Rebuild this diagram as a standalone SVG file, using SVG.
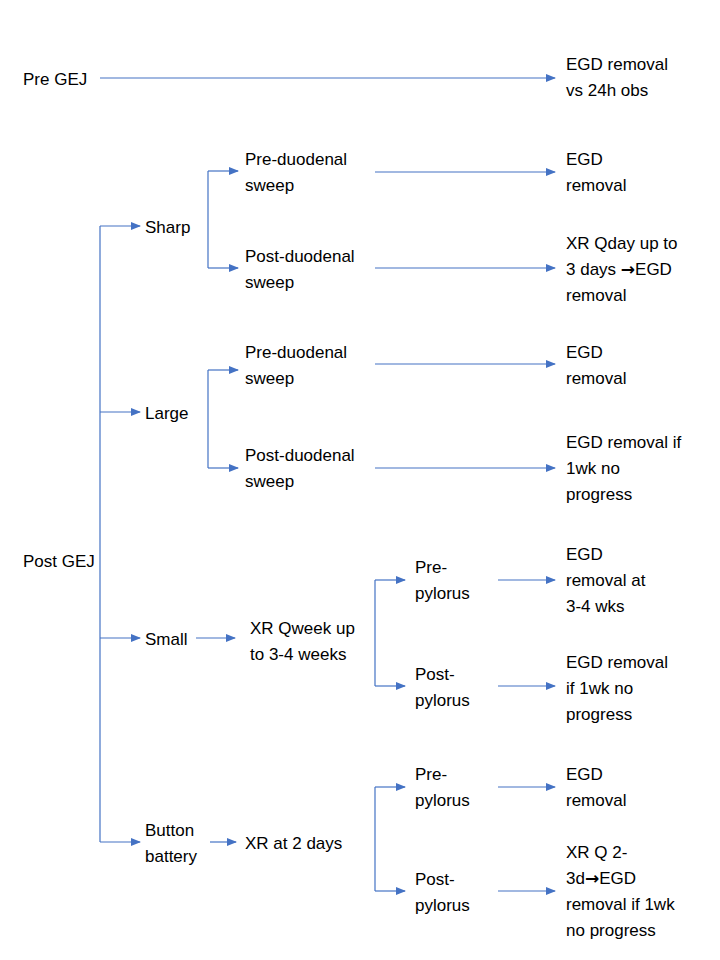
<svg xmlns="http://www.w3.org/2000/svg" width="720" height="960" viewBox="0 0 720 960">
<style>
text{font-family:"Liberation Sans",Arial,sans-serif;font-size:17px;fill:#000}
.ar{font-family:"DejaVu Sans",sans-serif;font-weight:bold}
.l{stroke:#4472C4;stroke-width:1.2;fill:none}
.a{stroke:#4472C4;stroke-width:1.2;fill:none;marker-end:url(#ar)}
</style>
<defs><marker id="ar" markerWidth="10" markerHeight="8" refX="9" refY="4" orient="auto" markerUnits="userSpaceOnUse"><path d="M0,0L10,4L0,8z" fill="#4472C4"/></marker></defs>
<rect width="720" height="960" fill="#fff"/>
<g id="connectors">
<path class="a" d="M100,78H555"/>
<path class="l" d="M100,226V842"/>
<path class="a" d="M100,226H140"/><path class="a" d="M100,412H140"/><path class="a" d="M100,638H140"/><path class="a" d="M100,842H140"/>
<path class="l" d="M208,171V268"/><path class="a" d="M208,171H238"/><path class="a" d="M208,268H238"/>
<path class="a" d="M375,172H555"/><path class="a" d="M375,268H555"/>
<path class="l" d="M208,370V468"/><path class="a" d="M208,370H238"/><path class="a" d="M208,468H238"/>
<path class="a" d="M375,364H555"/><path class="a" d="M375,468H555"/>
<path class="a" d="M196,638H235"/>
<path class="l" d="M375,580V686"/><path class="a" d="M375,580H405"/><path class="a" d="M375,686H405"/>
<path class="a" d="M498,580H555"/><path class="a" d="M498,686H555"/>
<path class="a" d="M210,842H236"/>
<path class="l" d="M375,787V891"/><path class="a" d="M375,787H405"/><path class="a" d="M375,891H405"/>
<path class="a" d="M498,787H555"/><path class="a" d="M498,891H555"/>
</g>
<g id="pregej"><text x="23" y="85">Pre GEJ</text></g>
<g id="pregej-out"><text x="566" y="70">EGD removal</text><text x="566" y="96">vs 24h obs</text></g>
<g id="postgej"><text x="23" y="567">Post GEJ</text></g>
<g id="sharp"><text x="145" y="233">Sharp</text></g>
<g id="sharp-pre"><text x="245" y="165">Pre-duodenal</text><text x="245" y="191">sweep</text></g>
<g id="sharp-pre-out"><text x="566" y="165">EGD</text><text x="566" y="191">removal</text></g>
<g id="sharp-post"><text x="245" y="262">Post-duodenal</text><text x="245" y="288">sweep</text></g>
<g id="sharp-post-out"><text x="566" y="249">XR Qday up to</text><text x="566" y="275">3 days <tspan class="ar">→</tspan>EGD</text><text x="566" y="301">removal</text></g>
<g id="large"><text x="145" y="419">Large</text></g>
<g id="large-pre"><text x="245" y="358">Pre-duodenal</text><text x="245" y="384">sweep</text></g>
<g id="large-pre-out"><text x="566" y="358">EGD</text><text x="566" y="384">removal</text></g>
<g id="large-post"><text x="245" y="461">Post-duodenal</text><text x="245" y="487">sweep</text></g>
<g id="large-post-out"><text x="566" y="448">EGD removal if</text><text x="566" y="474">1wk no</text><text x="566" y="500">progress</text></g>
<g id="small"><text x="145" y="645">Small</text></g>
<g id="small-xr"><text x="250" y="634">XR Qweek up</text><text x="250" y="660">to 3-4 weeks</text></g>
<g id="small-pre"><text x="415" y="573">Pre-</text><text x="415" y="599">pylorus</text></g>
<g id="small-pre-out"><text x="566" y="560">EGD</text><text x="566" y="586">removal at</text><text x="566" y="612">3-4 wks</text></g>
<g id="small-post"><text x="415" y="680">Post-</text><text x="415" y="706">pylorus</text></g>
<g id="small-post-out"><text x="566" y="668">EGD removal</text><text x="566" y="694">if 1wk no</text><text x="566" y="720">progress</text></g>
<g id="battery"><text x="145" y="836">Button</text><text x="145" y="862">battery</text></g>
<g id="battery-xr"><text x="245" y="849">XR at 2 days</text></g>
<g id="battery-pre"><text x="415" y="780">Pre-</text><text x="415" y="806">pylorus</text></g>
<g id="battery-pre-out"><text x="566" y="780">EGD</text><text x="566" y="806">removal</text></g>
<g id="battery-post"><text x="415" y="885">Post-</text><text x="415" y="911">pylorus</text></g>
<g id="battery-post-out"><text x="566" y="858">XR Q 2-</text><text x="566" y="884">3d<tspan class="ar">→</tspan>EGD</text><text x="566" y="910">removal if 1wk</text><text x="566" y="936">no progress</text></g>
</svg>
